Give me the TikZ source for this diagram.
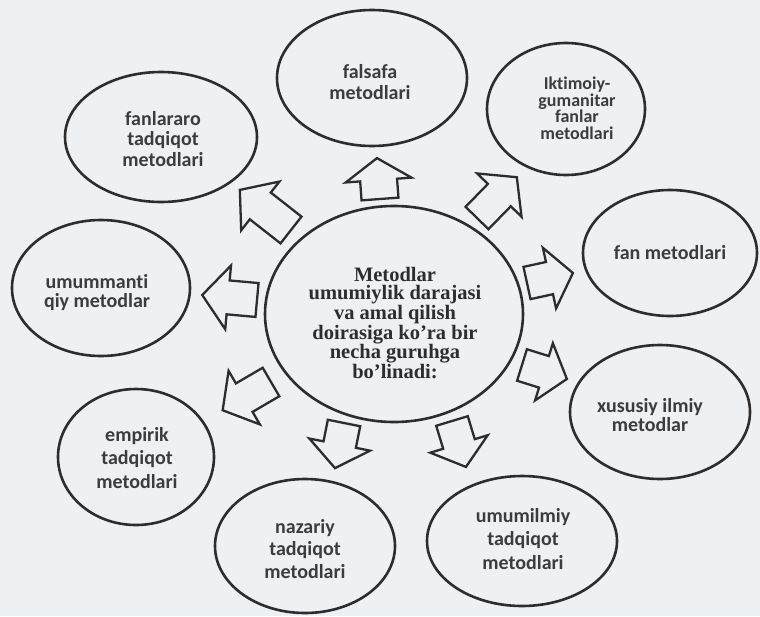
\documentclass[tikz,border=0pt]{standalone}
\usepackage{fontspec}
\setmainfont{Liberation Serif}
\newfontfamily\satfont[Ligatures=CommonOff]{Carlito}
\usetikzlibrary{shapes.geometric}
\definecolor{bg}{RGB}{237,241,244}
\definecolor{ink}{RGB}{45,45,45}
\definecolor{txt}{RGB}{60,60,60}
\tikzset{
  sat/.style={ellipse, draw=ink, line width=2.6pt, inner sep=0pt},
  sattext/.style={font=\satfont\bfseries\fontsize{20}{#1}\selectfont, text=txt, align=center, inner sep=0pt},
  maintext/.style={font=\bfseries\fontsize{20.5}{18.5}\selectfont, text=ink, align=center, inner sep=0pt},
  barrow/.style={draw=ink, line width=2.3pt, line join=miter},
}
% #1 name, #2 tail point, #3 angle, #4 length, #5 head length, #6 shaft half width, #7 head half width
\newcommand{\blockarrow}[7]{%
  \coordinate (#1) at (#2);
  \draw[barrow, shift={(#1)}, rotate=#3] (0,-#6) -- ({#4-#5},-#6) -- ({#4-#5},-#7) -- (#4,0) -- ({#4-#5},#7) -- ({#4-#5},#6) -- (0,#6) -- cycle;
}
\begin{document}
\begin{tikzpicture}[x=1pt, y=-1pt]
\fill[bg] (0,0) rectangle (760,616);
\useasboundingbox (0,0) rectangle (760,616);

% central ellipse
\node[sat, minimum width=258pt, minimum height=216pt] (c) at (394,314) {};
\node[maintext] (ct) at (395,323) {Metodlar\\umumiylik darajasi\\va amal qilish\\doirasiga ko'ra bir\\necha guruhga\\bo'linadi:};

% satellites
\node[sat, minimum width=190pt, minimum height=136pt] (f1) at (372,78) {};
\node[sattext=21] (t1) at (370,82) {falsafa\\metodlari};

\node[sat, minimum width=158pt, minimum height=132pt] (f2) at (566,109) {};
\node[sattext=16.5, font=\satfont\bfseries\fontsize{18}{16.5}\selectfont] (t2) at (577,108) {Iktimoiy-\\gumanitar\\fanlar\\metodlari};

\node[sat, minimum width=174pt, minimum height=126pt] (f3) at (670,253) {};
\node[sattext=20] (t3) at (670,253) {fan metodlari};

\node[sat, minimum width=180pt, minimum height=134pt] (f4) at (660,412) {};
\node[sattext=19] (t4) at (650,415) {xususiy ilmiy\\metodlar};

\node[sat, minimum width=190pt, minimum height=130pt] (f5) at (522,541) {};
\node[sattext=23.5] (t5) at (523,539) {umumilmiy\\tadqiqot\\metodlari};

\node[sat, minimum width=180pt, minimum height=134pt] (f6) at (305,546) {};
\node[sattext=22.5] (t6) at (305,549) {nazariy\\tadqiqot\\metodlari};

\node[sat, minimum width=156pt, minimum height=136pt] (f7) at (136,457) {};
\node[sattext=23.5] (t7) at (137,458) {empirik\\tadqiqot\\metodlari};

\node[sat, minimum width=178pt, minimum height=136pt] (f8) at (101,288) {};
\node[sattext=19] (t8) at (97,293) {umummanti\\qiy metodlar};

\node[sat, minimum width=192pt, minimum height=130pt] (f9) at (161,137) {};
\node[sattext=20.5] (t9) at (163,139) {fanlararo\\tadqiqot\\metodlari};

% block arrows
\blockarrow{a1}{380,199}{94.2}{41}{22}{18.5}{33}
\blockarrow{a2}{477,218}{45.7}{57}{25}{16}{31}
\blockarrow{a3}{527,283}{12.3}{47}{24}{16.5}{31}
\blockarrow{a4}{522,365}{-17.3}{47}{24}{16.5}{30}
\blockarrow{a5}{452,421}{-73.1}{48}{24}{16.5}{30}
\blockarrow{a6}{344,423}{-101.3}{46}{24}{16.5}{31}
\blockarrow{a7}{271,382}{-149.7}{56}{25}{16.5}{31}
\blockarrow{a8}{257,300}{174.8}{55}{26}{17}{32}
\blockarrow{a9}{291,230}{141.9}{65}{26}{17}{31}
\end{tikzpicture}
\end{document}
